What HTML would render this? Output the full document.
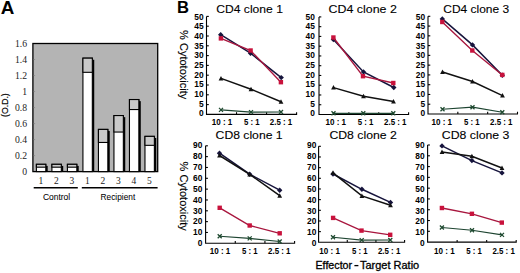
<!DOCTYPE html>
<html><head><meta charset="utf-8"><style>
html,body{margin:0;padding:0;background:#fff;width:520px;height:273px;overflow:hidden}
svg{display:block}
</style></head><body>
<svg width="520" height="273" viewBox="0 0 520 273">
<rect x="0" y="0" width="520" height="273" fill="#fff"/>
<text x="0.8" y="13.6" textLength="13.6" lengthAdjust="spacingAndGlyphs" style="font-family:'Liberation Sans',sans-serif;font-weight:bold;font-size:17.6px">A</text>
<rect x="32.9" y="43.5" width="124.79999999999998" height="128.1" fill="#b4b4b4" stroke="#000" stroke-width="1.3"/>
<text x="27.1" y="174.90" text-anchor="end" style="font-family:'Liberation Serif',serif;font-size:9.7px" fill="#222">0</text>
<text x="27.1" y="158.89" text-anchor="end" style="font-family:'Liberation Serif',serif;font-size:9.7px" fill="#222">0.2</text>
<line x1="33.6" y1="155.59" x2="35.1" y2="155.59" stroke="#888" stroke-width="0.8"/>
<text x="27.1" y="142.88" text-anchor="end" style="font-family:'Liberation Serif',serif;font-size:9.7px" fill="#222">0.4</text>
<line x1="33.6" y1="139.57" x2="35.1" y2="139.57" stroke="#888" stroke-width="0.8"/>
<text x="27.1" y="126.86" text-anchor="end" style="font-family:'Liberation Serif',serif;font-size:9.7px" fill="#222">0.6</text>
<line x1="33.6" y1="123.56" x2="35.1" y2="123.56" stroke="#888" stroke-width="0.8"/>
<text x="27.1" y="110.85" text-anchor="end" style="font-family:'Liberation Serif',serif;font-size:9.7px" fill="#222">0.8</text>
<line x1="33.6" y1="107.55" x2="35.1" y2="107.55" stroke="#888" stroke-width="0.8"/>
<text x="27.1" y="94.84" text-anchor="end" style="font-family:'Liberation Serif',serif;font-size:9.7px" fill="#222">1</text>
<line x1="33.6" y1="91.54" x2="35.1" y2="91.54" stroke="#888" stroke-width="0.8"/>
<text x="27.1" y="78.82" text-anchor="end" style="font-family:'Liberation Serif',serif;font-size:9.7px" fill="#222">1.2</text>
<line x1="33.6" y1="75.52" x2="35.1" y2="75.52" stroke="#888" stroke-width="0.8"/>
<text x="27.1" y="62.81" text-anchor="end" style="font-family:'Liberation Serif',serif;font-size:9.7px" fill="#222">1.4</text>
<line x1="33.6" y1="59.51" x2="35.1" y2="59.51" stroke="#888" stroke-width="0.8"/>
<text x="27.1" y="46.80" text-anchor="end" style="font-family:'Liberation Serif',serif;font-size:9.7px" fill="#222">1.6</text>
<text transform="translate(8.1,105.1) rotate(-90)" x="-11.8" textLength="23.6" lengthAdjust="spacingAndGlyphs" style="font-family:'Liberation Sans',sans-serif;font-size:9px" stroke="#000" stroke-width="0.2">(O.D.)</text>
<rect x="45.20" y="165.91" width="2.5" height="5.69" fill="#000"/>
<rect x="36.40" y="164.31" width="9.40" height="7.29" fill="#fff" stroke="#000" stroke-width="1.1"/>
<rect x="36.40" y="164.31" width="9.40" height="2.88" fill="#c9c9c9" stroke="#000" stroke-width="1.1"/>
<rect x="60.71" y="165.91" width="2.5" height="5.69" fill="#000"/>
<rect x="51.91" y="164.31" width="9.40" height="7.29" fill="#fff" stroke="#000" stroke-width="1.1"/>
<rect x="51.91" y="164.31" width="9.40" height="2.88" fill="#c9c9c9" stroke="#000" stroke-width="1.1"/>
<rect x="76.22" y="165.91" width="2.5" height="5.69" fill="#000"/>
<rect x="67.42" y="164.31" width="9.40" height="7.29" fill="#fff" stroke="#000" stroke-width="1.1"/>
<rect x="67.42" y="164.31" width="9.40" height="2.88" fill="#c9c9c9" stroke="#000" stroke-width="1.1"/>
<rect x="91.73" y="59.75" width="2.5" height="111.85" fill="#000"/>
<rect x="82.93" y="58.15" width="9.40" height="113.45" fill="#fff" stroke="#000" stroke-width="1.1"/>
<rect x="82.93" y="58.15" width="9.40" height="14.17" fill="#c9c9c9" stroke="#000" stroke-width="1.1"/>
<rect x="107.24" y="131.01" width="2.5" height="40.59" fill="#000"/>
<rect x="98.44" y="129.41" width="9.40" height="42.19" fill="#fff" stroke="#000" stroke-width="1.1"/>
<rect x="98.44" y="129.41" width="9.40" height="13.05" fill="#c9c9c9" stroke="#000" stroke-width="1.1"/>
<rect x="122.75" y="117.16" width="2.5" height="54.44" fill="#000"/>
<rect x="113.95" y="115.56" width="9.40" height="56.04" fill="#fff" stroke="#000" stroke-width="1.1"/>
<rect x="113.95" y="115.56" width="9.40" height="16.49" fill="#c9c9c9" stroke="#000" stroke-width="1.1"/>
<rect x="138.26" y="101.14" width="2.5" height="70.46" fill="#000"/>
<rect x="129.46" y="99.54" width="9.40" height="72.06" fill="#fff" stroke="#000" stroke-width="1.1"/>
<rect x="129.46" y="99.54" width="9.40" height="10.01" fill="#c9c9c9" stroke="#000" stroke-width="1.1"/>
<rect x="153.77" y="137.97" width="2.5" height="33.63" fill="#000"/>
<rect x="144.97" y="136.37" width="9.40" height="35.23" fill="#fff" stroke="#000" stroke-width="1.1"/>
<rect x="144.97" y="136.37" width="9.40" height="8.97" fill="#c9c9c9" stroke="#000" stroke-width="1.1"/>
<text x="40.90" y="183.7" text-anchor="middle" style="font-family:'Liberation Serif',serif;font-size:9.5px" fill="#1a1a1a">1</text>
<text x="56.41" y="183.7" text-anchor="middle" style="font-family:'Liberation Serif',serif;font-size:9.5px" fill="#1a1a1a">2</text>
<text x="71.92" y="183.7" text-anchor="middle" style="font-family:'Liberation Serif',serif;font-size:9.5px" fill="#1a1a1a">3</text>
<text x="87.43" y="183.7" text-anchor="middle" style="font-family:'Liberation Serif',serif;font-size:9.5px" fill="#1a1a1a">1</text>
<text x="102.94" y="183.7" text-anchor="middle" style="font-family:'Liberation Serif',serif;font-size:9.5px" fill="#1a1a1a">2</text>
<text x="118.45" y="183.7" text-anchor="middle" style="font-family:'Liberation Serif',serif;font-size:9.5px" fill="#1a1a1a">3</text>
<text x="133.96" y="183.7" text-anchor="middle" style="font-family:'Liberation Serif',serif;font-size:9.5px" fill="#1a1a1a">4</text>
<text x="149.47" y="183.7" text-anchor="middle" style="font-family:'Liberation Serif',serif;font-size:9.5px" fill="#1a1a1a">5</text>
<line x1="33.7" y1="187.8" x2="77.8" y2="187.8" stroke="#000" stroke-width="1.5"/>
<line x1="81.8" y1="187.8" x2="157.6" y2="187.8" stroke="#000" stroke-width="1.5"/>
<text x="42.9" y="199.6" textLength="27.3" lengthAdjust="spacingAndGlyphs" style="font-family:'Liberation Sans',sans-serif;font-size:9.3px" stroke="#000" stroke-width="0.05">Control</text>
<text x="100.6" y="199.6" textLength="34.6" lengthAdjust="spacingAndGlyphs" style="font-family:'Liberation Sans',sans-serif;font-size:9.3px" stroke="#000" stroke-width="0.05">Recipient</text>
<text x="177.1" y="13.3" textLength="12" lengthAdjust="spacingAndGlyphs" style="font-family:'Liberation Sans',sans-serif;font-weight:bold;font-size:16.5px">B</text>
<text x="216.30" y="12.60" textLength="66.60" lengthAdjust="spacingAndGlyphs" style="font-family:'Liberation Sans',sans-serif;font-size:11.3px" stroke="#000" stroke-width="0.1">CD4 clone 1</text>
<path d="M206.50 16.40V114.40H296.60V112.20" stroke="#000" stroke-width="1.1" fill="none"/>
<line x1="206.50" y1="104.60" x2="208.80" y2="104.60" stroke="#000" stroke-width="1.1"/>
<line x1="206.50" y1="94.80" x2="208.80" y2="94.80" stroke="#000" stroke-width="1.1"/>
<line x1="206.50" y1="85.00" x2="208.80" y2="85.00" stroke="#000" stroke-width="1.1"/>
<line x1="206.50" y1="75.20" x2="208.80" y2="75.20" stroke="#000" stroke-width="1.1"/>
<line x1="206.50" y1="65.40" x2="208.80" y2="65.40" stroke="#000" stroke-width="1.1"/>
<line x1="206.50" y1="55.60" x2="208.80" y2="55.60" stroke="#000" stroke-width="1.1"/>
<line x1="206.50" y1="45.80" x2="208.80" y2="45.80" stroke="#000" stroke-width="1.1"/>
<line x1="206.50" y1="36.00" x2="208.80" y2="36.00" stroke="#000" stroke-width="1.1"/>
<line x1="206.50" y1="26.20" x2="208.80" y2="26.20" stroke="#000" stroke-width="1.1"/>
<line x1="206.50" y1="16.40" x2="208.80" y2="16.40" stroke="#000" stroke-width="1.1"/>
<text x="203.70" y="19.60" text-anchor="end" style="font-family:'Liberation Sans',sans-serif;font-weight:bold;font-size:8.4px">50</text>
<text x="203.70" y="29.26" text-anchor="end" style="font-family:'Liberation Sans',sans-serif;font-weight:bold;font-size:8.4px">45</text>
<text x="203.70" y="38.92" text-anchor="end" style="font-family:'Liberation Sans',sans-serif;font-weight:bold;font-size:8.4px">40</text>
<text x="203.70" y="48.58" text-anchor="end" style="font-family:'Liberation Sans',sans-serif;font-weight:bold;font-size:8.4px">35</text>
<text x="203.70" y="58.24" text-anchor="end" style="font-family:'Liberation Sans',sans-serif;font-weight:bold;font-size:8.4px">30</text>
<text x="203.70" y="67.90" text-anchor="end" style="font-family:'Liberation Sans',sans-serif;font-weight:bold;font-size:8.4px">25</text>
<text x="203.70" y="77.56" text-anchor="end" style="font-family:'Liberation Sans',sans-serif;font-weight:bold;font-size:8.4px">20</text>
<text x="203.70" y="87.22" text-anchor="end" style="font-family:'Liberation Sans',sans-serif;font-weight:bold;font-size:8.4px">15</text>
<text x="203.70" y="96.88" text-anchor="end" style="font-family:'Liberation Sans',sans-serif;font-weight:bold;font-size:8.4px">10</text>
<text x="203.70" y="106.54" text-anchor="end" style="font-family:'Liberation Sans',sans-serif;font-weight:bold;font-size:8.4px">5</text>
<text x="203.70" y="116.20" text-anchor="end" style="font-family:'Liberation Sans',sans-serif;font-weight:bold;font-size:8.4px">0</text>
<line x1="236.53" y1="114.40" x2="236.53" y2="112.20" stroke="#000" stroke-width="1.1"/>
<line x1="266.57" y1="114.40" x2="266.57" y2="112.20" stroke="#000" stroke-width="1.1"/>
<text x="222.00" y="125.00" text-anchor="middle" textLength="20.6" lengthAdjust="spacingAndGlyphs" style="font-family:'Liberation Sans',sans-serif;font-weight:bold;font-size:8.6px">10 : 1</text>
<text x="251.80" y="125.00" text-anchor="middle" textLength="15.6" lengthAdjust="spacingAndGlyphs" style="font-family:'Liberation Sans',sans-serif;font-weight:bold;font-size:8.6px">5 : 1</text>
<text x="281.00" y="125.00" text-anchor="middle" textLength="22.4" lengthAdjust="spacingAndGlyphs" style="font-family:'Liberation Sans',sans-serif;font-weight:bold;font-size:8.6px">2.5 : 1</text>
<polyline points="220.70,34.70 250.50,53.20 281.20,77.60" fill="none" stroke="#16143c" stroke-width="1.5"/>
<path d="M220.70 32.00L223.40 34.70L220.70 37.40L218.00 34.70Z" fill="#16143c"/>
<path d="M250.50 50.50L253.20 53.20L250.50 55.90L247.80 53.20Z" fill="#16143c"/>
<path d="M281.20 74.90L283.90 77.60L281.20 80.30L278.50 77.60Z" fill="#16143c"/>
<polyline points="220.90,38.40 250.60,50.50 280.90,82.20" fill="none" stroke="#a8163e" stroke-width="1.35"/>
<rect x="218.70" y="36.20" width="4.4" height="4.4" fill="#c8123c"/>
<rect x="248.40" y="48.30" width="4.4" height="4.4" fill="#c8123c"/>
<rect x="278.70" y="80.00" width="4.4" height="4.4" fill="#c8123c"/>
<polyline points="221.00,78.40 251.00,89.20 281.00,101.70" fill="none" stroke="#111" stroke-width="1.5"/>
<path d="M221.00 75.90L223.40 80.40L218.60 80.40Z" fill="#111"/>
<path d="M251.00 86.70L253.40 91.20L248.60 91.20Z" fill="#111"/>
<path d="M281.00 99.20L283.40 103.70L278.60 103.70Z" fill="#111"/>
<polyline points="221.00,109.90 251.00,112.10 281.00,112.00" fill="none" stroke="#1d4430" stroke-width="1.15"/>
<path d="M219.00 107.90L223.00 111.90M223.00 107.90L219.00 111.90" stroke="#1f4a30" stroke-width="1.3" fill="none"/>
<path d="M249.00 110.10L253.00 114.10M253.00 110.10L249.00 114.10" stroke="#1f4a30" stroke-width="1.3" fill="none"/>
<path d="M279.00 110.00L283.00 114.00M283.00 110.00L279.00 114.00" stroke="#1f4a30" stroke-width="1.3" fill="none"/>
<text x="328.60" y="12.60" textLength="68.20" lengthAdjust="spacingAndGlyphs" style="font-family:'Liberation Sans',sans-serif;font-size:11.3px" stroke="#000" stroke-width="0.1">CD4 clone 2</text>
<path d="M319.00 16.90V114.50H408.60V112.30" stroke="#000" stroke-width="1.1" fill="none"/>
<line x1="319.00" y1="104.74" x2="321.30" y2="104.74" stroke="#000" stroke-width="1.1"/>
<line x1="319.00" y1="94.98" x2="321.30" y2="94.98" stroke="#000" stroke-width="1.1"/>
<line x1="319.00" y1="85.22" x2="321.30" y2="85.22" stroke="#000" stroke-width="1.1"/>
<line x1="319.00" y1="75.46" x2="321.30" y2="75.46" stroke="#000" stroke-width="1.1"/>
<line x1="319.00" y1="65.70" x2="321.30" y2="65.70" stroke="#000" stroke-width="1.1"/>
<line x1="319.00" y1="55.94" x2="321.30" y2="55.94" stroke="#000" stroke-width="1.1"/>
<line x1="319.00" y1="46.18" x2="321.30" y2="46.18" stroke="#000" stroke-width="1.1"/>
<line x1="319.00" y1="36.42" x2="321.30" y2="36.42" stroke="#000" stroke-width="1.1"/>
<line x1="319.00" y1="26.66" x2="321.30" y2="26.66" stroke="#000" stroke-width="1.1"/>
<line x1="319.00" y1="16.90" x2="321.30" y2="16.90" stroke="#000" stroke-width="1.1"/>
<text x="314.90" y="19.60" text-anchor="end" style="font-family:'Liberation Sans',sans-serif;font-weight:bold;font-size:8.4px">50</text>
<text x="314.90" y="29.26" text-anchor="end" style="font-family:'Liberation Sans',sans-serif;font-weight:bold;font-size:8.4px">45</text>
<text x="314.90" y="38.92" text-anchor="end" style="font-family:'Liberation Sans',sans-serif;font-weight:bold;font-size:8.4px">40</text>
<text x="314.90" y="48.58" text-anchor="end" style="font-family:'Liberation Sans',sans-serif;font-weight:bold;font-size:8.4px">35</text>
<text x="314.90" y="58.24" text-anchor="end" style="font-family:'Liberation Sans',sans-serif;font-weight:bold;font-size:8.4px">30</text>
<text x="314.90" y="67.90" text-anchor="end" style="font-family:'Liberation Sans',sans-serif;font-weight:bold;font-size:8.4px">25</text>
<text x="314.90" y="77.56" text-anchor="end" style="font-family:'Liberation Sans',sans-serif;font-weight:bold;font-size:8.4px">20</text>
<text x="314.90" y="87.22" text-anchor="end" style="font-family:'Liberation Sans',sans-serif;font-weight:bold;font-size:8.4px">15</text>
<text x="314.90" y="96.88" text-anchor="end" style="font-family:'Liberation Sans',sans-serif;font-weight:bold;font-size:8.4px">10</text>
<text x="314.90" y="106.54" text-anchor="end" style="font-family:'Liberation Sans',sans-serif;font-weight:bold;font-size:8.4px">5</text>
<text x="314.90" y="116.20" text-anchor="end" style="font-family:'Liberation Sans',sans-serif;font-weight:bold;font-size:8.4px">0</text>
<line x1="348.87" y1="114.50" x2="348.87" y2="112.30" stroke="#000" stroke-width="1.1"/>
<line x1="378.73" y1="114.50" x2="378.73" y2="112.30" stroke="#000" stroke-width="1.1"/>
<text x="335.80" y="125.00" text-anchor="middle" textLength="20.6" lengthAdjust="spacingAndGlyphs" style="font-family:'Liberation Sans',sans-serif;font-weight:bold;font-size:8.6px">10 : 1</text>
<text x="365.60" y="125.00" text-anchor="middle" textLength="15.6" lengthAdjust="spacingAndGlyphs" style="font-family:'Liberation Sans',sans-serif;font-weight:bold;font-size:8.6px">5 : 1</text>
<text x="395.30" y="125.00" text-anchor="middle" textLength="22.4" lengthAdjust="spacingAndGlyphs" style="font-family:'Liberation Sans',sans-serif;font-weight:bold;font-size:8.6px">2.5 : 1</text>
<polyline points="333.40,39.60 363.50,71.90 393.80,87.50" fill="none" stroke="#16143c" stroke-width="1.5"/>
<path d="M333.40 36.90L336.10 39.60L333.40 42.30L330.70 39.60Z" fill="#16143c"/>
<path d="M363.50 69.20L366.20 71.90L363.50 74.60L360.80 71.90Z" fill="#16143c"/>
<path d="M393.80 84.80L396.50 87.50L393.80 90.20L391.10 87.50Z" fill="#16143c"/>
<polyline points="333.40,37.50 363.00,76.20 393.30,83.00" fill="none" stroke="#a8163e" stroke-width="1.35"/>
<rect x="331.20" y="35.30" width="4.4" height="4.4" fill="#c8123c"/>
<rect x="360.80" y="74.00" width="4.4" height="4.4" fill="#c8123c"/>
<rect x="391.10" y="80.80" width="4.4" height="4.4" fill="#c8123c"/>
<polyline points="333.50,87.60 363.50,96.30 393.50,101.60" fill="none" stroke="#111" stroke-width="1.5"/>
<path d="M333.50 85.10L335.90 89.60L331.10 89.60Z" fill="#111"/>
<path d="M363.50 93.80L365.90 98.30L361.10 98.30Z" fill="#111"/>
<path d="M393.50 99.10L395.90 103.60L391.10 103.60Z" fill="#111"/>
<polyline points="333.50,113.30 363.30,113.30 393.30,113.30" fill="none" stroke="#1d4430" stroke-width="1.15"/>
<path d="M331.50 111.30L335.50 115.30M335.50 111.30L331.50 115.30" stroke="#1f4a30" stroke-width="1.3" fill="none"/>
<path d="M361.30 111.30L365.30 115.30M365.30 111.30L361.30 115.30" stroke="#1f4a30" stroke-width="1.3" fill="none"/>
<path d="M391.30 111.30L395.30 115.30M395.30 111.30L391.30 115.30" stroke="#1f4a30" stroke-width="1.3" fill="none"/>
<text x="443.30" y="12.60" textLength="65.80" lengthAdjust="spacingAndGlyphs" style="font-family:'Liberation Sans',sans-serif;font-size:11.3px" stroke="#000" stroke-width="0.1">CD4 clone 3</text>
<path d="M428.00 16.30V114.00H517.50V111.80" stroke="#000" stroke-width="1.1" fill="none"/>
<line x1="428.00" y1="104.23" x2="430.30" y2="104.23" stroke="#000" stroke-width="1.1"/>
<line x1="428.00" y1="94.46" x2="430.30" y2="94.46" stroke="#000" stroke-width="1.1"/>
<line x1="428.00" y1="84.69" x2="430.30" y2="84.69" stroke="#000" stroke-width="1.1"/>
<line x1="428.00" y1="74.92" x2="430.30" y2="74.92" stroke="#000" stroke-width="1.1"/>
<line x1="428.00" y1="65.15" x2="430.30" y2="65.15" stroke="#000" stroke-width="1.1"/>
<line x1="428.00" y1="55.38" x2="430.30" y2="55.38" stroke="#000" stroke-width="1.1"/>
<line x1="428.00" y1="45.61" x2="430.30" y2="45.61" stroke="#000" stroke-width="1.1"/>
<line x1="428.00" y1="35.84" x2="430.30" y2="35.84" stroke="#000" stroke-width="1.1"/>
<line x1="428.00" y1="26.07" x2="430.30" y2="26.07" stroke="#000" stroke-width="1.1"/>
<line x1="428.00" y1="16.30" x2="430.30" y2="16.30" stroke="#000" stroke-width="1.1"/>
<text x="425.10" y="19.60" text-anchor="end" style="font-family:'Liberation Sans',sans-serif;font-weight:bold;font-size:8.4px">50</text>
<text x="425.10" y="29.26" text-anchor="end" style="font-family:'Liberation Sans',sans-serif;font-weight:bold;font-size:8.4px">45</text>
<text x="425.10" y="38.92" text-anchor="end" style="font-family:'Liberation Sans',sans-serif;font-weight:bold;font-size:8.4px">40</text>
<text x="425.10" y="48.58" text-anchor="end" style="font-family:'Liberation Sans',sans-serif;font-weight:bold;font-size:8.4px">35</text>
<text x="425.10" y="58.24" text-anchor="end" style="font-family:'Liberation Sans',sans-serif;font-weight:bold;font-size:8.4px">30</text>
<text x="425.10" y="67.90" text-anchor="end" style="font-family:'Liberation Sans',sans-serif;font-weight:bold;font-size:8.4px">25</text>
<text x="425.10" y="77.56" text-anchor="end" style="font-family:'Liberation Sans',sans-serif;font-weight:bold;font-size:8.4px">20</text>
<text x="425.10" y="87.22" text-anchor="end" style="font-family:'Liberation Sans',sans-serif;font-weight:bold;font-size:8.4px">15</text>
<text x="425.10" y="96.88" text-anchor="end" style="font-family:'Liberation Sans',sans-serif;font-weight:bold;font-size:8.4px">10</text>
<text x="425.10" y="106.54" text-anchor="end" style="font-family:'Liberation Sans',sans-serif;font-weight:bold;font-size:8.4px">5</text>
<text x="425.10" y="116.20" text-anchor="end" style="font-family:'Liberation Sans',sans-serif;font-weight:bold;font-size:8.4px">0</text>
<line x1="457.83" y1="114.00" x2="457.83" y2="111.80" stroke="#000" stroke-width="1.1"/>
<line x1="487.67" y1="114.00" x2="487.67" y2="111.80" stroke="#000" stroke-width="1.1"/>
<text x="441.80" y="125.00" text-anchor="middle" textLength="20.6" lengthAdjust="spacingAndGlyphs" style="font-family:'Liberation Sans',sans-serif;font-weight:bold;font-size:8.6px">10 : 1</text>
<text x="471.80" y="125.00" text-anchor="middle" textLength="15.6" lengthAdjust="spacingAndGlyphs" style="font-family:'Liberation Sans',sans-serif;font-weight:bold;font-size:8.6px">5 : 1</text>
<text x="501.30" y="125.00" text-anchor="middle" textLength="22.4" lengthAdjust="spacingAndGlyphs" style="font-family:'Liberation Sans',sans-serif;font-weight:bold;font-size:8.6px">2.5 : 1</text>
<polyline points="442.30,18.90 472.50,44.90 502.30,75.20" fill="none" stroke="#16143c" stroke-width="1.5"/>
<path d="M442.30 16.20L445.00 18.90L442.30 21.60L439.60 18.90Z" fill="#16143c"/>
<path d="M472.50 42.20L475.20 44.90L472.50 47.60L469.80 44.90Z" fill="#16143c"/>
<path d="M502.30 72.50L505.00 75.20L502.30 77.90L499.60 75.20Z" fill="#16143c"/>
<polyline points="442.30,22.00 472.30,50.50 502.30,74.90" fill="none" stroke="#a8163e" stroke-width="1.35"/>
<rect x="440.10" y="19.80" width="4.4" height="4.4" fill="#c8123c"/>
<rect x="470.10" y="48.30" width="4.4" height="4.4" fill="#c8123c"/>
<rect x="500.10" y="72.70" width="4.4" height="4.4" fill="#c8123c"/>
<polyline points="442.50,72.00 472.50,81.50 502.50,95.60" fill="none" stroke="#111" stroke-width="1.5"/>
<path d="M442.50 69.50L444.90 74.00L440.10 74.00Z" fill="#111"/>
<path d="M472.50 79.00L474.90 83.50L470.10 83.50Z" fill="#111"/>
<path d="M502.50 93.10L504.90 97.60L500.10 97.60Z" fill="#111"/>
<polyline points="442.50,109.20 472.50,107.20 502.30,112.20" fill="none" stroke="#1d4430" stroke-width="1.15"/>
<path d="M440.50 107.20L444.50 111.20M444.50 107.20L440.50 111.20" stroke="#1f4a30" stroke-width="1.3" fill="none"/>
<path d="M470.50 105.20L474.50 109.20M474.50 105.20L470.50 109.20" stroke="#1f4a30" stroke-width="1.3" fill="none"/>
<path d="M500.30 110.20L504.30 114.20M504.30 110.20L500.30 114.20" stroke="#1f4a30" stroke-width="1.3" fill="none"/>
<text x="215.60" y="139.10" textLength="67.00" lengthAdjust="spacingAndGlyphs" style="font-family:'Liberation Sans',sans-serif;font-size:11.3px" stroke="#000" stroke-width="0.1">CD8 clone 1</text>
<path d="M205.60 145.80V243.30H294.60V241.10" stroke="#000" stroke-width="1.1" fill="none"/>
<line x1="205.60" y1="232.47" x2="207.90" y2="232.47" stroke="#000" stroke-width="1.1"/>
<line x1="205.60" y1="221.63" x2="207.90" y2="221.63" stroke="#000" stroke-width="1.1"/>
<line x1="205.60" y1="210.80" x2="207.90" y2="210.80" stroke="#000" stroke-width="1.1"/>
<line x1="205.60" y1="199.97" x2="207.90" y2="199.97" stroke="#000" stroke-width="1.1"/>
<line x1="205.60" y1="189.13" x2="207.90" y2="189.13" stroke="#000" stroke-width="1.1"/>
<line x1="205.60" y1="178.30" x2="207.90" y2="178.30" stroke="#000" stroke-width="1.1"/>
<line x1="205.60" y1="167.47" x2="207.90" y2="167.47" stroke="#000" stroke-width="1.1"/>
<line x1="205.60" y1="156.63" x2="207.90" y2="156.63" stroke="#000" stroke-width="1.1"/>
<line x1="205.60" y1="145.80" x2="207.90" y2="145.80" stroke="#000" stroke-width="1.1"/>
<text x="202.30" y="148.10" text-anchor="end" style="font-family:'Liberation Sans',sans-serif;font-weight:bold;font-size:8.4px">90</text>
<text x="202.30" y="159.00" text-anchor="end" style="font-family:'Liberation Sans',sans-serif;font-weight:bold;font-size:8.4px">80</text>
<text x="202.30" y="169.90" text-anchor="end" style="font-family:'Liberation Sans',sans-serif;font-weight:bold;font-size:8.4px">70</text>
<text x="202.30" y="180.80" text-anchor="end" style="font-family:'Liberation Sans',sans-serif;font-weight:bold;font-size:8.4px">60</text>
<text x="202.30" y="191.70" text-anchor="end" style="font-family:'Liberation Sans',sans-serif;font-weight:bold;font-size:8.4px">50</text>
<text x="202.30" y="202.60" text-anchor="end" style="font-family:'Liberation Sans',sans-serif;font-weight:bold;font-size:8.4px">40</text>
<text x="202.30" y="213.50" text-anchor="end" style="font-family:'Liberation Sans',sans-serif;font-weight:bold;font-size:8.4px">30</text>
<text x="202.30" y="224.40" text-anchor="end" style="font-family:'Liberation Sans',sans-serif;font-weight:bold;font-size:8.4px">20</text>
<text x="202.30" y="235.30" text-anchor="end" style="font-family:'Liberation Sans',sans-serif;font-weight:bold;font-size:8.4px">10</text>
<text x="202.30" y="246.20" text-anchor="end" style="font-family:'Liberation Sans',sans-serif;font-weight:bold;font-size:8.4px">0</text>
<line x1="235.27" y1="243.30" x2="235.27" y2="241.10" stroke="#000" stroke-width="1.1"/>
<line x1="264.93" y1="243.30" x2="264.93" y2="241.10" stroke="#000" stroke-width="1.1"/>
<text x="220.00" y="254.30" text-anchor="middle" textLength="20.6" lengthAdjust="spacingAndGlyphs" style="font-family:'Liberation Sans',sans-serif;font-weight:bold;font-size:8.6px">10 : 1</text>
<text x="249.80" y="254.30" text-anchor="middle" textLength="15.6" lengthAdjust="spacingAndGlyphs" style="font-family:'Liberation Sans',sans-serif;font-weight:bold;font-size:8.6px">5 : 1</text>
<text x="279.30" y="254.30" text-anchor="middle" textLength="22.4" lengthAdjust="spacingAndGlyphs" style="font-family:'Liberation Sans',sans-serif;font-weight:bold;font-size:8.6px">2.5 : 1</text>
<polyline points="219.50,153.20 249.70,174.20 279.70,190.20" fill="none" stroke="#16143c" stroke-width="1.5"/>
<path d="M219.50 150.50L222.20 153.20L219.50 155.90L216.80 153.20Z" fill="#16143c"/>
<path d="M249.70 171.50L252.40 174.20L249.70 176.90L247.00 174.20Z" fill="#16143c"/>
<path d="M279.70 187.50L282.40 190.20L279.70 192.90L277.00 190.20Z" fill="#16143c"/>
<polyline points="219.70,207.80 249.70,225.50 279.70,233.30" fill="none" stroke="#a8163e" stroke-width="1.35"/>
<rect x="217.50" y="205.60" width="4.4" height="4.4" fill="#c8123c"/>
<rect x="247.50" y="223.30" width="4.4" height="4.4" fill="#c8123c"/>
<rect x="277.50" y="231.10" width="4.4" height="4.4" fill="#c8123c"/>
<polyline points="219.50,155.50 249.70,174.40 279.70,195.70" fill="none" stroke="#111" stroke-width="1.5"/>
<path d="M219.50 153.00L221.90 157.50L217.10 157.50Z" fill="#111"/>
<path d="M249.70 171.90L252.10 176.40L247.30 176.40Z" fill="#111"/>
<path d="M279.70 193.20L282.10 197.70L277.30 197.70Z" fill="#111"/>
<polyline points="219.70,236.20 249.70,238.40 279.70,241.50" fill="none" stroke="#1d4430" stroke-width="1.15"/>
<path d="M217.70 234.20L221.70 238.20M221.70 234.20L217.70 238.20" stroke="#1f4a30" stroke-width="1.3" fill="none"/>
<path d="M247.70 236.40L251.70 240.40M251.70 236.40L247.70 240.40" stroke="#1f4a30" stroke-width="1.3" fill="none"/>
<path d="M277.70 239.50L281.70 243.50M281.70 239.50L277.70 243.50" stroke="#1f4a30" stroke-width="1.3" fill="none"/>
<text x="329.40" y="139.10" textLength="67.40" lengthAdjust="spacingAndGlyphs" style="font-family:'Liberation Sans',sans-serif;font-size:11.3px" stroke="#000" stroke-width="0.1">CD8 clone 2</text>
<path d="M318.60 146.30V242.30H404.60V240.10" stroke="#000" stroke-width="1.1" fill="none"/>
<line x1="318.60" y1="231.63" x2="320.90" y2="231.63" stroke="#000" stroke-width="1.1"/>
<line x1="318.60" y1="220.97" x2="320.90" y2="220.97" stroke="#000" stroke-width="1.1"/>
<line x1="318.60" y1="210.30" x2="320.90" y2="210.30" stroke="#000" stroke-width="1.1"/>
<line x1="318.60" y1="199.63" x2="320.90" y2="199.63" stroke="#000" stroke-width="1.1"/>
<line x1="318.60" y1="188.97" x2="320.90" y2="188.97" stroke="#000" stroke-width="1.1"/>
<line x1="318.60" y1="178.30" x2="320.90" y2="178.30" stroke="#000" stroke-width="1.1"/>
<line x1="318.60" y1="167.63" x2="320.90" y2="167.63" stroke="#000" stroke-width="1.1"/>
<line x1="318.60" y1="156.97" x2="320.90" y2="156.97" stroke="#000" stroke-width="1.1"/>
<line x1="318.60" y1="146.30" x2="320.90" y2="146.30" stroke="#000" stroke-width="1.1"/>
<text x="316.30" y="148.10" text-anchor="end" style="font-family:'Liberation Sans',sans-serif;font-weight:bold;font-size:8.4px">90</text>
<text x="316.30" y="159.00" text-anchor="end" style="font-family:'Liberation Sans',sans-serif;font-weight:bold;font-size:8.4px">80</text>
<text x="316.30" y="169.90" text-anchor="end" style="font-family:'Liberation Sans',sans-serif;font-weight:bold;font-size:8.4px">70</text>
<text x="316.30" y="180.80" text-anchor="end" style="font-family:'Liberation Sans',sans-serif;font-weight:bold;font-size:8.4px">60</text>
<text x="316.30" y="191.70" text-anchor="end" style="font-family:'Liberation Sans',sans-serif;font-weight:bold;font-size:8.4px">50</text>
<text x="316.30" y="202.60" text-anchor="end" style="font-family:'Liberation Sans',sans-serif;font-weight:bold;font-size:8.4px">40</text>
<text x="316.30" y="213.50" text-anchor="end" style="font-family:'Liberation Sans',sans-serif;font-weight:bold;font-size:8.4px">30</text>
<text x="316.30" y="224.40" text-anchor="end" style="font-family:'Liberation Sans',sans-serif;font-weight:bold;font-size:8.4px">20</text>
<text x="316.30" y="235.30" text-anchor="end" style="font-family:'Liberation Sans',sans-serif;font-weight:bold;font-size:8.4px">10</text>
<text x="316.30" y="246.20" text-anchor="end" style="font-family:'Liberation Sans',sans-serif;font-weight:bold;font-size:8.4px">0</text>
<line x1="347.27" y1="242.30" x2="347.27" y2="240.10" stroke="#000" stroke-width="1.1"/>
<line x1="375.93" y1="242.30" x2="375.93" y2="240.10" stroke="#000" stroke-width="1.1"/>
<text x="329.60" y="254.30" text-anchor="middle" textLength="20.6" lengthAdjust="spacingAndGlyphs" style="font-family:'Liberation Sans',sans-serif;font-weight:bold;font-size:8.6px">10 : 1</text>
<text x="359.80" y="254.30" text-anchor="middle" textLength="15.6" lengthAdjust="spacingAndGlyphs" style="font-family:'Liberation Sans',sans-serif;font-weight:bold;font-size:8.6px">5 : 1</text>
<text x="389.10" y="254.30" text-anchor="middle" textLength="22.4" lengthAdjust="spacingAndGlyphs" style="font-family:'Liberation Sans',sans-serif;font-weight:bold;font-size:8.6px">2.5 : 1</text>
<polyline points="333.00,174.00 361.90,189.30 390.50,202.40" fill="none" stroke="#16143c" stroke-width="1.5"/>
<path d="M333.00 171.30L335.70 174.00L333.00 176.70L330.30 174.00Z" fill="#16143c"/>
<path d="M361.90 186.60L364.60 189.30L361.90 192.00L359.20 189.30Z" fill="#16143c"/>
<path d="M390.50 199.70L393.20 202.40L390.50 205.10L387.80 202.40Z" fill="#16143c"/>
<polyline points="333.10,217.90 361.50,230.60 390.20,234.80" fill="none" stroke="#a8163e" stroke-width="1.35"/>
<rect x="330.90" y="215.70" width="4.4" height="4.4" fill="#c8123c"/>
<rect x="359.30" y="228.40" width="4.4" height="4.4" fill="#c8123c"/>
<rect x="388.00" y="232.60" width="4.4" height="4.4" fill="#c8123c"/>
<polyline points="333.00,172.80 361.90,195.90 390.50,205.30" fill="none" stroke="#111" stroke-width="1.5"/>
<path d="M333.00 170.30L335.40 174.80L330.60 174.80Z" fill="#111"/>
<path d="M361.90 193.40L364.30 197.90L359.50 197.90Z" fill="#111"/>
<path d="M390.50 202.80L392.90 207.30L388.10 207.30Z" fill="#111"/>
<polyline points="333.00,237.30 361.70,240.10 390.30,240.00" fill="none" stroke="#1d4430" stroke-width="1.15"/>
<path d="M331.00 235.30L335.00 239.30M335.00 235.30L331.00 239.30" stroke="#1f4a30" stroke-width="1.3" fill="none"/>
<path d="M359.70 238.10L363.70 242.10M363.70 238.10L359.70 242.10" stroke="#1f4a30" stroke-width="1.3" fill="none"/>
<path d="M388.30 238.00L392.30 242.00M392.30 238.00L388.30 242.00" stroke="#1f4a30" stroke-width="1.3" fill="none"/>
<text x="441.80" y="139.10" textLength="67.60" lengthAdjust="spacingAndGlyphs" style="font-family:'Liberation Sans',sans-serif;font-size:11.3px" stroke="#000" stroke-width="0.1">CD8 clone 3</text>
<path d="M427.60 145.00V242.10H516.20V239.90" stroke="#000" stroke-width="1.1" fill="none"/>
<line x1="427.60" y1="231.31" x2="429.90" y2="231.31" stroke="#000" stroke-width="1.1"/>
<line x1="427.60" y1="220.52" x2="429.90" y2="220.52" stroke="#000" stroke-width="1.1"/>
<line x1="427.60" y1="209.73" x2="429.90" y2="209.73" stroke="#000" stroke-width="1.1"/>
<line x1="427.60" y1="198.94" x2="429.90" y2="198.94" stroke="#000" stroke-width="1.1"/>
<line x1="427.60" y1="188.16" x2="429.90" y2="188.16" stroke="#000" stroke-width="1.1"/>
<line x1="427.60" y1="177.37" x2="429.90" y2="177.37" stroke="#000" stroke-width="1.1"/>
<line x1="427.60" y1="166.58" x2="429.90" y2="166.58" stroke="#000" stroke-width="1.1"/>
<line x1="427.60" y1="155.79" x2="429.90" y2="155.79" stroke="#000" stroke-width="1.1"/>
<line x1="427.60" y1="145.00" x2="429.90" y2="145.00" stroke="#000" stroke-width="1.1"/>
<text x="424.60" y="148.10" text-anchor="end" style="font-family:'Liberation Sans',sans-serif;font-weight:bold;font-size:8.4px">90</text>
<text x="424.60" y="159.00" text-anchor="end" style="font-family:'Liberation Sans',sans-serif;font-weight:bold;font-size:8.4px">80</text>
<text x="424.60" y="169.90" text-anchor="end" style="font-family:'Liberation Sans',sans-serif;font-weight:bold;font-size:8.4px">70</text>
<text x="424.60" y="180.80" text-anchor="end" style="font-family:'Liberation Sans',sans-serif;font-weight:bold;font-size:8.4px">60</text>
<text x="424.60" y="191.70" text-anchor="end" style="font-family:'Liberation Sans',sans-serif;font-weight:bold;font-size:8.4px">50</text>
<text x="424.60" y="202.60" text-anchor="end" style="font-family:'Liberation Sans',sans-serif;font-weight:bold;font-size:8.4px">40</text>
<text x="424.60" y="213.50" text-anchor="end" style="font-family:'Liberation Sans',sans-serif;font-weight:bold;font-size:8.4px">30</text>
<text x="424.60" y="224.40" text-anchor="end" style="font-family:'Liberation Sans',sans-serif;font-weight:bold;font-size:8.4px">20</text>
<text x="424.60" y="235.30" text-anchor="end" style="font-family:'Liberation Sans',sans-serif;font-weight:bold;font-size:8.4px">10</text>
<text x="424.60" y="246.20" text-anchor="end" style="font-family:'Liberation Sans',sans-serif;font-weight:bold;font-size:8.4px">0</text>
<line x1="457.13" y1="242.10" x2="457.13" y2="239.90" stroke="#000" stroke-width="1.1"/>
<line x1="486.67" y1="242.10" x2="486.67" y2="239.90" stroke="#000" stroke-width="1.1"/>
<text x="444.40" y="254.30" text-anchor="middle" textLength="20.6" lengthAdjust="spacingAndGlyphs" style="font-family:'Liberation Sans',sans-serif;font-weight:bold;font-size:8.6px">10 : 1</text>
<text x="474.00" y="254.30" text-anchor="middle" textLength="15.6" lengthAdjust="spacingAndGlyphs" style="font-family:'Liberation Sans',sans-serif;font-weight:bold;font-size:8.6px">5 : 1</text>
<text x="503.60" y="254.30" text-anchor="middle" textLength="22.4" lengthAdjust="spacingAndGlyphs" style="font-family:'Liberation Sans',sans-serif;font-weight:bold;font-size:8.6px">2.5 : 1</text>
<polyline points="442.00,145.90 471.90,160.60 502.00,172.90" fill="none" stroke="#16143c" stroke-width="1.5"/>
<path d="M442.00 143.20L444.70 145.90L442.00 148.60L439.30 145.90Z" fill="#16143c"/>
<path d="M471.90 157.90L474.60 160.60L471.90 163.30L469.20 160.60Z" fill="#16143c"/>
<path d="M502.00 170.20L504.70 172.90L502.00 175.60L499.30 172.90Z" fill="#16143c"/>
<polyline points="441.90,208.00 471.90,213.80 501.80,222.60" fill="none" stroke="#a8163e" stroke-width="1.35"/>
<rect x="439.70" y="205.80" width="4.4" height="4.4" fill="#c8123c"/>
<rect x="469.70" y="211.60" width="4.4" height="4.4" fill="#c8123c"/>
<rect x="499.60" y="220.40" width="4.4" height="4.4" fill="#c8123c"/>
<polyline points="442.00,152.00 471.90,156.30 502.00,168.00" fill="none" stroke="#111" stroke-width="1.5"/>
<path d="M442.00 149.50L444.40 154.00L439.60 154.00Z" fill="#111"/>
<path d="M471.90 153.80L474.30 158.30L469.50 158.30Z" fill="#111"/>
<path d="M502.00 165.50L504.40 170.00L499.60 170.00Z" fill="#111"/>
<polyline points="441.90,227.50 472.00,230.20 502.00,234.90" fill="none" stroke="#1d4430" stroke-width="1.15"/>
<path d="M439.90 225.50L443.90 229.50M443.90 225.50L439.90 229.50" stroke="#1f4a30" stroke-width="1.3" fill="none"/>
<path d="M470.00 228.20L474.00 232.20M474.00 228.20L470.00 232.20" stroke="#1f4a30" stroke-width="1.3" fill="none"/>
<path d="M500.00 232.90L504.00 236.90M504.00 232.90L500.00 236.90" stroke="#1f4a30" stroke-width="1.3" fill="none"/>
<text transform="translate(180.2,64.65) rotate(90)" text-anchor="middle" style="font-family:'Liberation Sans',sans-serif;font-size:11px" stroke="#000" stroke-width="0.15">% Cytotoxicity</text>
<text transform="translate(180.2,196.15) rotate(90)" text-anchor="middle" style="font-family:'Liberation Sans',sans-serif;font-size:11px" stroke="#000" stroke-width="0.15">% Cytotoxicity</text>
<text x="315.5" y="268.6" textLength="36.6" lengthAdjust="spacingAndGlyphs" style="font-family:'Liberation Sans',sans-serif;font-size:10.6px" stroke="#000" stroke-width="0.3">Effector</text>
<line x1="354.4" y1="265.6" x2="358.4" y2="265.6" stroke="#000" stroke-width="1.3"/>
<text x="360.0" y="268.6" textLength="59.2" lengthAdjust="spacingAndGlyphs" style="font-family:'Liberation Sans',sans-serif;font-size:10.6px" stroke="#000" stroke-width="0.3">Target Ratio</text>
</svg>
</body></html>
